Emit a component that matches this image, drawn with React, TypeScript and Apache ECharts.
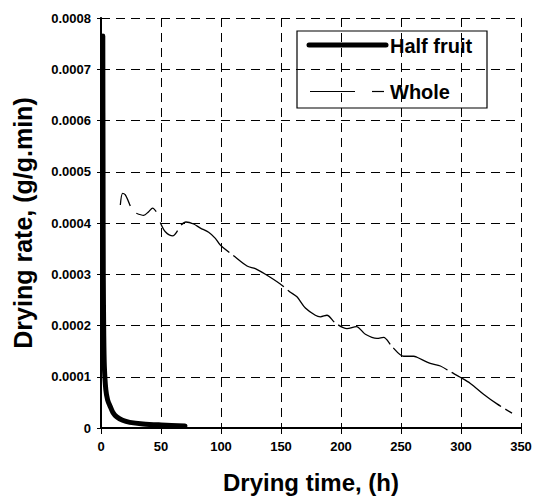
import React, { useEffect, useRef } from "react";
import * as echarts from "echarts";

// Half fruit series (time in h, drying rate in g/g.min)
const halfTime = [1.5, 1.7, 1.9, 2.3, 2.8, 4, 5.5, 7.7, 10, 13, 18, 24, 35, 50, 70];
const halfRate = [0.000765, 0.0005, 0.0003, 0.00018, 0.00012, 0.000075, 0.000055, 0.000042, 0.00003, 0.000022, 0.000015, 0.000011, 0.000008, 0.000006, 0.000004];

// Whole fruit series (null = break in the curve)
const wholeTime = [16.1, 18, 20.3, 24.4, 26.9, 29.4, 35.5, 39.7, 43, 46, 47.7, 49.4, 53.6, 60, 63.8, 65.3, 66.7, 70.8, 77.2, 82.8, 89.7, 95.3, 99.4, 110.5, 121.7, 128.6, 137, 149.4, 157.2, 163.3, 170.3, 178.6, 182.8, 188.3, 195.2, 205, 212.8, 220.3, 230, 235.5, 242.5, 252.2, 260.5, 263.3, 274.4, 282.8, 291, 299.4, 307.8, 318.8, 330, 342.5];
const wholeRate: (number | null)[] = [0.000435, 0.000458, 0.000455, 0.000433, null, 0.000419, 0.000415, 0.000422, 0.000429, 0.000422, null, 0.000401, 0.000383, 0.000375, 0.000385, null, 0.000396, 0.000402, 0.000398, 0.00039, 0.000382, 0.00037, 0.000357, 0.000336, 0.000316, 0.000311, 0.0003, 0.000281, 0.000266, 0.000256, 0.000234, 0.00022, 0.000217, 0.00022, 0.000205, 0.000194, 0.000198, 0.000183, 0.000175, 0.000177, 0.000159, 0.00014, 0.00014, 0.000138, 0.000126, 0.000121, 0.00011, 0.000099, 0.000087, 0.000066, 0.000047, 0.000029];

const xTitle = "Drying time, (h)";
const yTitle = "Drying rate, (g/g.min)";
const seriesNames = ["Half fruit", "Whole"];

const FONT = "'Liberation Sans', Arial, sans-serif";

export default function App() {
  const ref = useRef<HTMLDivElement>(null);
  useEffect(() => {
    if (!ref.current) return;
    const chart = echarts.init(ref.current, undefined, { renderer: "svg" });
    const halfData = halfTime.map((t, i) => [t, halfRate[i]]);
    const wholeData = wholeTime.map((t, i) => [t, wholeRate[i] === null ? "-" : wholeRate[i]]);
    const labelStyle = { color: "#000", fontWeight: "bold" as const, fontSize: 13, fontFamily: FONT };
    const gridLine = { show: true, lineStyle: { color: "#000", width: 1, type: [9, 6] as any } };
    chart.setOption({
      animation: false,
      backgroundColor: "#fff",
      grid: { left: 101, right: 15, top: 18, bottom: 71, containLabel: false },
      xAxis: [
        {
          type: "value",
          min: 0,
          max: 350,
          interval: 50,
          position: "bottom",
          axisLine: { show: true, lineStyle: { color: "#000", width: 2 } },
          axisTick: { show: true, inside: false, length: 5, lineStyle: { color: "#000", width: 1 } },
          axisLabel: { ...labelStyle, margin: 12 },
          splitLine: gridLine,
          name: xTitle,
          nameLocation: "middle",
          nameGap: 42,
          nameTextStyle: { color: "#000", fontWeight: "bold", fontSize: 24, fontFamily: FONT },
        },
        {
          type: "value",
          min: 0,
          max: 350,
          interval: 50,
          position: "top",
          axisLine: { show: true, lineStyle: { color: "#000", width: 2 } },
          axisTick: { show: true, inside: true, length: 6, lineStyle: { color: "#000", width: 1 } },
          axisLabel: { show: false },
          splitLine: { show: false },
        },
      ],
      yAxis: [
        {
          type: "value",
          min: 0,
          max: 0.0008,
          interval: 0.0001,
          position: "left",
          axisLine: { show: true, lineStyle: { color: "#000", width: 1.5 } },
          axisTick: { show: true, inside: false, length: 4, lineStyle: { color: "#000", width: 1 } },
          axisLabel: {
            ...labelStyle,
            margin: 10,
            formatter: (v: number) => (v === 0 ? "0" : v.toFixed(4)),
          },
          splitLine: gridLine,
          name: yTitle,
          nameLocation: "middle",
          nameGap: 66,
          nameTextStyle: { color: "#000", fontWeight: "bold", fontSize: 25, fontFamily: FONT },
        },
        {
          type: "value",
          min: 0,
          max: 0.0008,
          interval: 0.0001,
          position: "right",
          axisLine: { show: true, lineStyle: { color: "#000", width: 2 } },
          axisTick: { show: false },
          axisLabel: { show: false },
          splitLine: { show: false },
        },
      ],
      series: [
        {
          name: seriesNames[0],
          type: "line",
          xAxisIndex: 0,
          yAxisIndex: 0,
          data: halfData,
          showSymbol: false,
          symbol: "none",
          smooth: 0.3,
          lineStyle: { color: "#000", width: 5, cap: "round", join: "round" },
          z: 3,
        },
        {
          name: seriesNames[1],
          type: "line",
          xAxisIndex: 0,
          yAxisIndex: 0,
          data: wholeData,
          showSymbol: false,
          symbol: "none",
          smooth: 0.3,
          connectNulls: false,
          lineStyle: { color: "#000", width: 1.3, type: [60, 5] as any },
          z: 2,
        },
      ],
      graphic: [
        {
          type: "group",
          z: 100,
          children: [
            {
              type: "rect",
              shape: { x: 297, y: 31, width: 190, height: 77 },
              style: { fill: "#fff", stroke: "#000", lineWidth: 1.2 },
            },
            {
              type: "line",
              shape: { x1: 309, y1: 45, x2: 386, y2: 45 },
              style: { stroke: "#000", lineWidth: 5, lineCap: "round" },
            },
            {
              type: "text",
              style: { text: seriesNames[0], x: 390, y: 46, verticalAlign: "middle", fill: "#000", font: `bold 20px ${FONT}` },
            },
            {
              type: "line",
              shape: { x1: 310, y1: 91.5, x2: 355, y2: 91.5 },
              style: { stroke: "#000", lineWidth: 1.2 },
            },
            {
              type: "line",
              shape: { x1: 372, y1: 91.5, x2: 384, y2: 91.5 },
              style: { stroke: "#000", lineWidth: 1.2 },
            },
            {
              type: "text",
              style: { text: seriesNames[1], x: 390, y: 92, verticalAlign: "middle", fill: "#000", font: `bold 20px ${FONT}` },
            },
          ],
        },
      ],
    });
    return () => chart.dispose();
  }, []);
  return <div ref={ref} style={{ position: "fixed", left: 0, top: 0, width: 536, height: 499 }} />;
}
